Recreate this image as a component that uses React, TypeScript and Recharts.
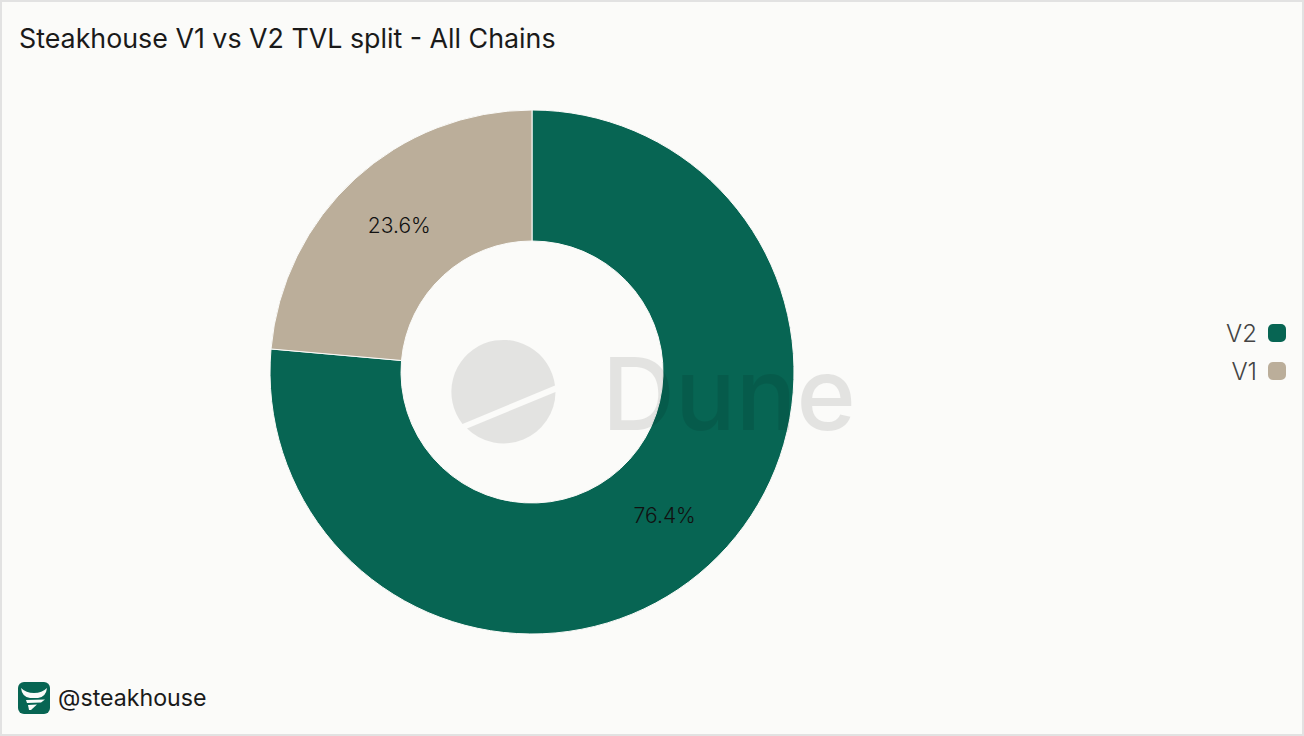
import React from 'react';
import { PieChart, Pie, Cell, Legend } from 'recharts';

const categories = ['V2', 'V1'];
const shares = [76.4, 23.6];
const colors = ['#076553', '#bbae9a'];

const chartData = categories.map((name, i) => ({ name, value: shares[i] }));

const FONT = 'Inter, sans-serif';
const RADIAN = Math.PI / 180;

// Percent label in the middle of the ring
const renderLabel = ({ cx, cy, midAngle, innerRadius, outerRadius, value }: any) => {
  const r = (innerRadius + outerRadius) / 2;
  const x = cx + r * Math.cos(-midAngle * RADIAN);
  const y = cy + r * Math.sin(-midAngle * RADIAN) - 1.5;
  return (
    <text x={x} y={y} textAnchor="middle" dominantBaseline="central" fontFamily={FONT} fontSize={21} fontWeight={300} fill="#111">
      {`${value.toFixed(1)}%`}
    </text>
  );
};

const LegendContent = ({ payload }: any) => (
  <div style={{ fontFamily: FONT }}>
    {(payload || []).map((entry: any) => (
      <div key={entry.value} style={{ display: 'flex', justifyContent: 'flex-end', alignItems: 'center', height: 38 }}>
        <span style={{ fontSize: 24, fontWeight: 300, color: '#444', marginRight: 11 }}>{entry.value}</span>
        <span style={{ width: 18, height: 18, borderRadius: 5, background: entry.color }} />
      </div>
    ))}
  </div>
);

// Dune watermark, sits on top of the chart
const Watermark = () => (
  <svg width={1304} height={736} style={{ position: 'absolute', left: 0, top: 0, pointerEvents: 'none' }}>
    <g fill="#000" opacity={0.09}>
      <path d="M555 385.5 A52 52 0 1 0 462.5 424 Z" />
      <path d="M555.5 392 A52 52 0 0 1 467 428.5 Z" />
      <text x={602} y={430} fontFamily={FONT} fontSize={101} fontWeight={500}>Dune</text>
    </g>
  </svg>
);

const SteakLogo = () => (
  <svg width={32} height={32} viewBox="0 0 32 32" style={{ position: 'absolute', left: 18, top: 682 }}>
    <rect width={32} height={32} rx={6} fill="#076553" />
    <path d="M3 6 Q8 11 16 11 Q24 11 29 6 Q28 15 20 16 L12 16 Q4 15 3 6 Z" fill="#fbfbf9" />
    <path d="M8 18 L27 17.5 L23 20.5 L9 21 Z" fill="#fbfbf9" />
    <path d="M10 23 L19 22.5 L13 28 L11 28 Z" fill="#fbfbf9" />
  </svg>
);

export default function App() {
  return (
    <div style={{ position: 'fixed', left: 0, top: 0, width: 1304, height: 736, boxSizing: 'border-box', background: '#fbfbf9', overflow: 'hidden' }}>
      <div style={{ position: 'absolute', inset: 0, border: '2px solid #e2e2e2', boxSizing: 'border-box' }} />
      <PieChart width={1304} height={736} style={{ position: 'absolute', left: 0, top: 0 }}>
        <Pie
          data={chartData}
          dataKey="value"
          nameKey="name"
          cx={527}
          cy={367}
          innerRadius={131}
          outerRadius={262}
          startAngle={90}
          endAngle={-270}
          stroke="#fbfbf9"
          strokeWidth={1}
          label={renderLabel}
          labelLine={false}
          isAnimationActive={false}
        >
          {chartData.map((d, i) => (
            <Cell key={d.name} fill={colors[i]} />
          ))}
        </Pie>
        <Legend layout="vertical" align="right" verticalAlign="top" itemSorter={null} wrapperStyle={{ right: 18, top: 314, width: 100 }} content={<LegendContent />} />
      </PieChart>
      <Watermark />
      <div style={{ position: 'absolute', left: 19, top: 22, fontFamily: FONT, fontSize: 26.8, lineHeight: '32px', color: '#1a1a1a', whiteSpace: 'nowrap' }}>
        Steakhouse V1 vs V2 TVL split - All Chains
      </div>
      <SteakLogo />
      <div style={{ position: 'absolute', left: 58, top: 684, fontFamily: FONT, fontSize: 23.2, lineHeight: '28px', color: '#1a1a1a' }}>
        @steakhouse
      </div>
    </div>
  );
}
